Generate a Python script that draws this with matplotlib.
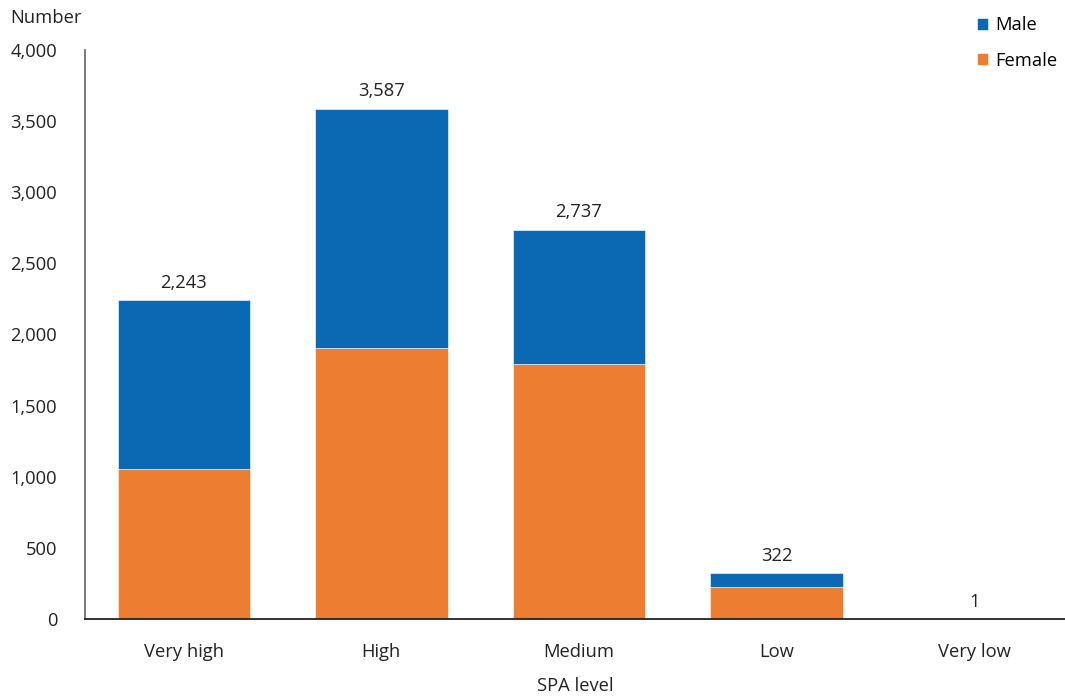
import numpy as np
import matplotlib.pyplot as plt

plt.rcParams['font.family'] = ['Open Sans', 'DejaVu Sans']

levels = ["Very high", "High", "Medium", "Low", "Very low"]
female = [1052, 1907, 1793, 226, 1]
male = [1191, 1680, 944, 96, 0]
tick_vals = [0, 500, 1000, 1500, 2000, 2500, 3000, 3500, 4000]

blue = "#0B69B3"
orange = "#ED7D31"
fs = 13.2

x = np.arange(len(levels))
female = np.array(female)
male = np.array(male)
totals = female + male

fig = plt.figure(figsize=(10.65, 6.99), dpi=100)
ax = fig.add_axes([85/1065, 80/699, 1 - 85/1065, (619 - 50)/699])

ax.bar(x, female, width=0.67, color=orange, edgecolor="white", linewidth=0.4, label="Female")
ax.bar(x, male, width=0.67, bottom=female, color=blue, edgecolor="white", linewidth=0.4, label="Male")

# totals above each stack
for xi, t in zip(x, totals):
    ax.annotate(f"{t:,}", (xi, t), xytext=(0, 6), textcoords="offset points",
                ha="center", va="bottom", fontsize=fs, color="#222222")

ax.set_xlim(-0.5, 4.46)
ax.set_ylim(0, 4000)
ax.set_yticks(tick_vals)
ax.set_yticklabels([f"{v:,}" for v in tick_vals])
ax.set_xticks(x)
ax.set_xticklabels(levels)
ax.tick_params(axis="both", length=0, labelsize=fs, colors="#222222")
ax.tick_params(axis="y", pad=20)
ax.tick_params(axis="x", pad=17)

for s in ["top", "right"]:
    ax.spines[s].set_visible(False)
ax.spines["left"].set_color("#707070")
ax.spines["left"].set_linewidth(1.3)
ax.spines["bottom"].set_color("#222222")
ax.spines["bottom"].set_linewidth(1.3)

ax.set_xlabel("SPA level", fontsize=fs, color="#222222", labelpad=12)
fig.text(10/1065, 1 - 18/699, "Number", fontsize=fs, color="#222222", va="center", ha="left")

handles, labels = ax.get_legend_handles_labels()
ax.legend(handles[::-1], labels[::-1], loc="upper right", bbox_to_anchor=(1.0, 1.072),
          frameon=False, fontsize=fs, handlelength=0.6, handleheight=0.6,
          handletextpad=0.4, labelspacing=0.95, borderaxespad=0)

fig.savefig("out.png", dpi=100)
